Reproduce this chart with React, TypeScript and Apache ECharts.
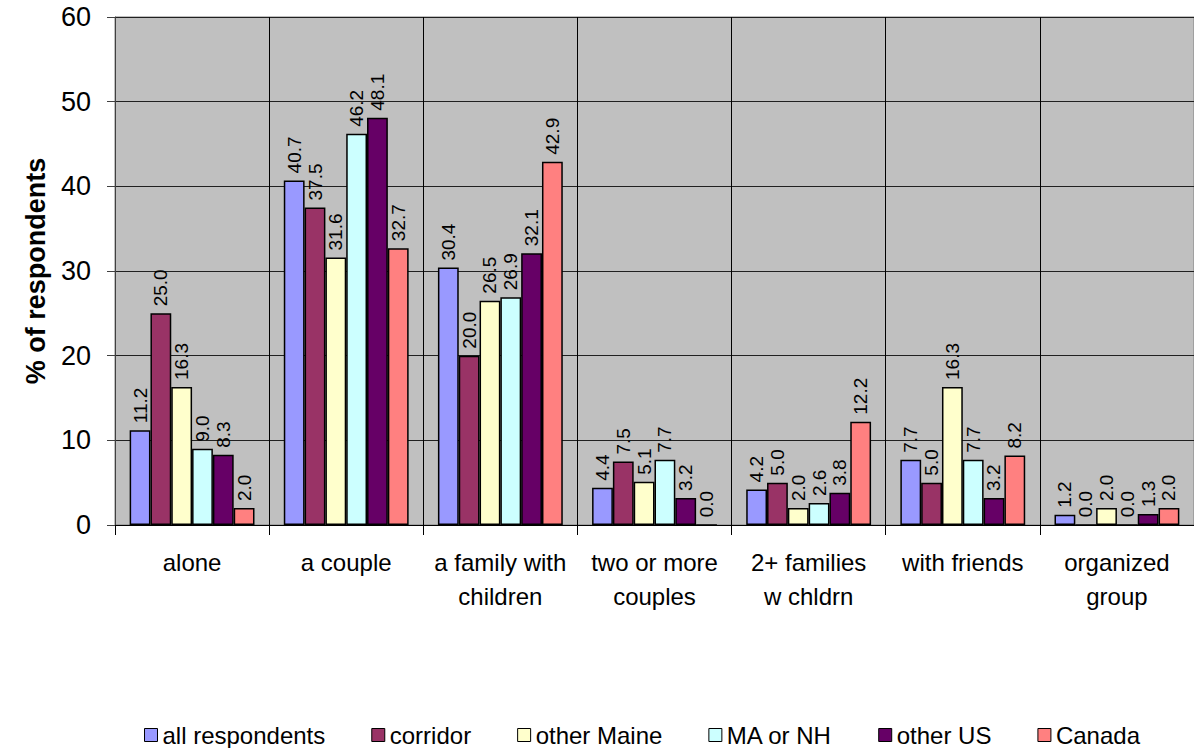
import React, { useEffect, useRef } from "react";
import * as echarts from "echarts";

const categories = [
  "alone",
  "a couple",
  "a family with\nchildren",
  "two or more\ncouples",
  "2+ families\nw chldrn",
  "with friends",
  "organized\ngroup",
];

const seriesNames = ["all respondents", "corridor", "other Maine", "MA or NH", "other US", "Canada"];

const allRespondents = [11.2, 40.7, 30.4, 4.4, 4.2, 7.7, 1.2];
const corridor = [25.0, 37.5, 20.0, 7.5, 5.0, 5.0, 0.0];
const otherMaine = [16.3, 31.6, 26.5, 5.1, 2.0, 16.3, 2.0];
const maOrNh = [9.0, 46.2, 26.9, 7.7, 2.6, 7.7, 0.0];
const otherUs = [8.3, 48.1, 32.1, 3.2, 3.8, 3.2, 1.3];
const canada = [2.0, 32.7, 42.9, 0.0, 12.2, 8.2, 2.0];

const seriesValues = [allRespondents, corridor, otherMaine, maOrNh, otherUs, canada];
const seriesColors = ["#9999FF", "#993366", "#FFFFCC", "#CCFFFF", "#660066", "#FF8080"];

const yTicks = [0, 10, 20, 30, 40, 50, 60];

const FONT = "'Liberation Sans', Arial, Helvetica, sans-serif";

export default function App() {
  const ref = useRef<HTMLDivElement>(null);

  useEffect(() => {
    if (!ref.current) return;
    const chart = echarts.init(ref.current, null, { renderer: "svg" });
    chart.setOption({
      animation: false,
      backgroundColor: "#ffffff",
      textStyle: { fontFamily: FONT, color: "#000" },
      grid: {
        left: 115,
        right: 0,
        top: 17,
        bottom: 223,
        show: true,
        backgroundColor: "#C0C0C0",
        borderColor: "#808080",
        borderWidth: 1,
      },
      legend: {
        data: seriesNames,
        left: 144,
        top: 723,
        padding: 0,
        itemWidth: 13,
        itemHeight: 13,
        itemGap: 46,
        icon: "rect",
        textStyle: { fontFamily: FONT, fontSize: 24, color: "#000" },
        itemStyle: { borderColor: "#000", borderWidth: 1 },
      },
      xAxis: {
        type: "category",
        data: categories,
        boundaryGap: true,
        axisLine: { lineStyle: { color: "#000", width: 1 } },
        axisTick: { show: true, length: 10, interval: 0, lineStyle: { color: "#000" } },
        splitLine: { show: true, interval: 0, lineStyle: { color: "#000", width: 1 } },
        axisLabel: {
          interval: 0,
          margin: 20,
          fontFamily: FONT,
          fontSize: 24,
          lineHeight: 34,
          color: "#000",
        },
      },
      yAxis: {
        type: "value",
        min: yTicks[0],
        max: yTicks[yTicks.length - 1],
        interval: 10,
        name: "% of respondents",
        nameLocation: "middle",
        nameGap: 66,
        nameRotate: 90,
        nameTextStyle: { fontFamily: FONT, fontSize: 27, fontWeight: "bold", color: "#000" },
        axisLine: { show: true, lineStyle: { color: "#404040", width: 1 } },
        axisTick: { show: true, length: 8, lineStyle: { color: "#404040" } },
        splitLine: { show: true, lineStyle: { color: "#202020", width: 1 } },
        axisLabel: { margin: 24, fontFamily: FONT, fontSize: 27, color: "#000" },
      },
      series: seriesNames.map((name, i) => ({
        name,
        type: "bar",
        data: seriesValues[i],
        barGap: "0%",
        barCategoryGap: "19%",
        itemStyle: { color: seriesColors[i], borderColor: "#000", borderWidth: 1.5 },
        label: {
          show: true,
          position: "top",
          rotate: 90,
          align: "left",
          verticalAlign: "middle",
          distance: 7,
          fontFamily: FONT,
          fontSize: 19,
          color: "#000",
          formatter: (p: any) => Number(p.value).toFixed(1),
        },
      })),
    });
    return () => chart.dispose();
  }, []);

  return (
    <div
      ref={ref}
      style={{ position: "absolute", left: 0, top: 0, width: 1194, height: 748 }}
    />
  );
}
